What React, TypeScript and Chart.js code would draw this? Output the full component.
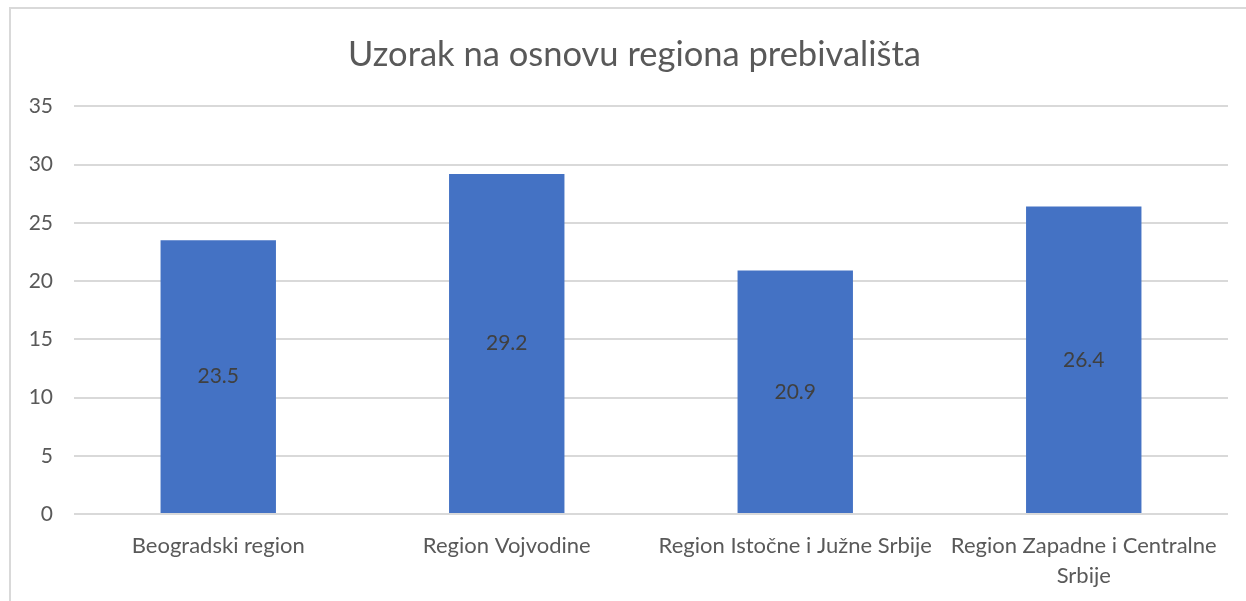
import React, { useEffect, useRef } from "react";
import { Chart, registerables } from "chart.js";

Chart.register(...registerables);

const chartTitle = "Uzorak na osnovu regiona prebivališta";
const categories: (string | string[])[] = [
  "Beogradski region",
  "Region Vojvodine",
  "Region Istočne i Južne Srbije",
  ["Region Zapadne i Centralne", "Srbije"],
];
const values = [23.5, 29.2, 20.9, 26.4];
const yMin = 0;
const yMax = 35;
const yStep = 5;

const FONT = "Lato, 'Open Sans', sans-serif";
const CW = 1250;
const CH = 592;

const dataLabels = {
  id: "dataLabels",
  afterLayout(chart: any) {
    // let the y tick labels use the space left of the scale box
    const y = chart.scales.y;
    if (y) y.left = 0;
  },
  afterDatasetsDraw(chart: any) {
    const ctx = chart.ctx;
    const meta = chart.getDatasetMeta(0);
    ctx.save();
    ctx.fillStyle = "#404040";
    ctx.font = `21px ${FONT}`;
    ctx.textAlign = "center";
    ctx.textBaseline = "middle";
    meta.data.forEach((bar: any, i: number) => {
      const p = bar.getProps(["x", "y", "base"], true);
      ctx.fillText(values[i].toFixed(1), p.x, (p.y + p.base) / 2);
    });
    ctx.restore();
  },
};

export default function App() {
  const ref = useRef<HTMLCanvasElement | null>(null);
  useEffect(() => {
    if (!ref.current) return;
    const chart = new Chart(ref.current, {
      type: "bar",
      data: {
        labels: categories,
        datasets: [
          {
            data: values,
            backgroundColor: "#4472C4",
            borderWidth: 0,
            categoryPercentage: 1,
            barPercentage: 0.4,
          },
        ],
      },
      options: {
        animation: false,
        responsive: false,
        layout: { padding: { left: 30, right: 33, top: 0, bottom: 0 } },
        plugins: {
          legend: { display: false },
          tooltip: { enabled: false },
          title: {
            display: true,
            text: chartTitle,
            color: "#595959",
            font: { family: FONT, size: 34.5, weight: "normal" },
            padding: { top: 25, bottom: 31 },
          },
        },
        scales: {
          x: {
            grid: { display: false },
            border: { display: false },
            ticks: {
              color: "#595959",
              font: { family: FONT, size: 22, lineHeight: 1.36 },
              padding: 9,
              maxRotation: 0,
              autoSkip: false,
            },
            afterFit(scale: any) {
              scale.height = CH - 505;
            },
          },
          y: {
            min: yMin,
            max: yMax,
            ticks: {
              stepSize: yStep,
              color: "#595959",
              font: { family: FONT, size: 21 },
              padding: 21,
            },
            grid: { color: "#d9d9d9", lineWidth: 2, drawTicks: false },
            border: { display: false },
            afterFit(scale: any) {
              scale.width = 33;
            },
          },
        },
      },
      plugins: [dataLabels],
    });
    return () => chart.destroy();
  }, []);

  return (
    <div
      style={{
        position: "absolute",
        left: 9,
        top: 7,
        width: CW,
        height: CH,
        border: "2px solid #d9d9d9",
        background: "#fff",
      }}
    >
      <canvas ref={ref} width={CW} height={CH} style={{ display: "block", width: CW, height: CH }} />
    </div>
  );
}
